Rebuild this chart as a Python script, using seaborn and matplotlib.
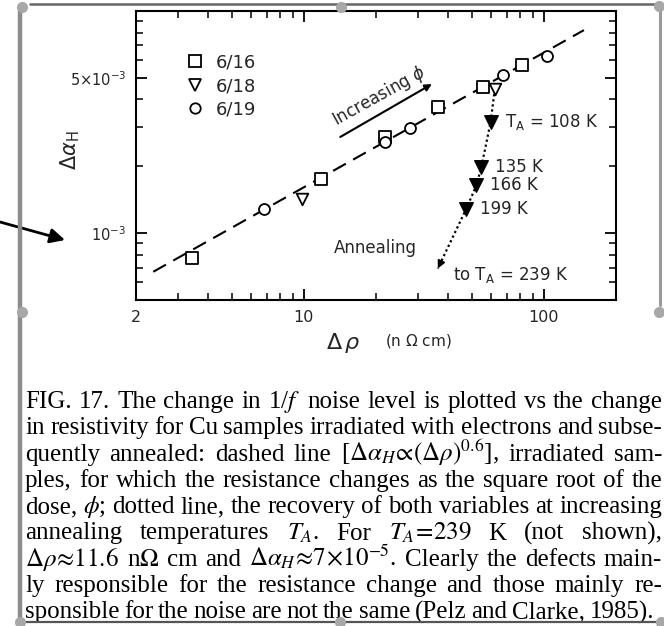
import numpy as np
import pandas as pd
import matplotlib
matplotlib.use("Agg")
import matplotlib.pyplot as plt
import seaborn as sns
from matplotlib.lines import Line2D
from matplotlib.ticker import NullFormatter

# ---------------- data ----------------
sq_x = [3.42, 11.8, 21.7, 36.2, 55.9, 80.9]            # sample 6/16
sq_y = [7.7e-4, 1.76e-3, 2.72e-3, 3.68e-3, 4.53e-3, 5.71e-3]
tri_x = [9.87, 62.5]                                     # sample 6/18
tri_y = [1.43e-3, 4.45e-3]
circ_x = [6.82, 21.7, 27.6, 67.8, 102.8]                 # sample 6/19
circ_y = [1.29e-3, 2.58e-3, 2.96e-3, 5.15e-3, 6.27e-3]
legend_labels = ["6/16", "6/18", "6/19"]

anneal_labels = [r"T$_\mathregular{A}$ = 108 K", "135 K", "166 K", "199 K"]
anneal_x = [60.1, 55.0, 52.4, 47.6]
anneal_y = [3.17e-3, 1.99e-3, 1.64e-3, 1.29e-3]
anneal_end_x = [36.2]
anneal_end_y = [6.93e-4]
anneal_end_label = r"to T$_\mathregular{A}$ = 239 K"

fit_x = [2.36, 147.0]     # dashed line  (Δα_H ∝ Δρ^0.6)
fit_y = [6.7e-4, 8.2e-3]

x_ticks = [2, 10, 100]
x_ticklabels = ["2", "10", "100"]
y_ticks = [1e-3, 5e-3]
y_ticklabels = [r"$10^{-3}$", r"$5{\times}10^{-3}$"]

caption_lines = [
    r"FIG. 17.  The change in 1/$f$ noise level is plotted vs the change",
    r"in resistivity for Cu samples irradiated with electrons and subse-",
    r"quently annealed: dashed line [$\Delta\alpha_H\!\propto\!(\Delta\rho)^{0.6}$], irradiated sam-",
    r"ples, for which the resistance changes as the square root of the",
    r"dose, $\phi$; dotted line, the recovery of both variables at increasing",
    r"annealing temperatures $T_A$. For $T_A\!=\!239$ K (not shown),",
    r"$\Delta\rho\!\approx\!11.6$ n$\Omega$ cm and $\Delta\alpha_H\!\approx\!7\!\times\!10^{-5}$. Clearly the defects main-",
    r"ly responsible for the resistance change and those mainly re-",
    r"sponsible for the noise are not the same (Pelz and Clarke, 1985).",
]

# ---------------- figure ----------------
sns.set_theme(style="ticks")
plt.rcParams["font.family"] = ["DejaVu Sans"]
plt.rcParams["mathtext.fontset"] = "dejavusans"

W, H = 664, 626
fig = plt.figure(figsize=(W / 100, H / 100), dpi=100)
fig.patch.set_facecolor("white")

def fx(px):
    return px / W

def fy(py):
    return 1 - py / H

ax = fig.add_axes([fx(136), fy(300), fx(616) - fx(136), fy(11) - fy(300)])
ax.set_facecolor("white")
ax.set_xscale("log")
ax.set_yscale("log")
ax.set_xlim(2, 200)
ax.set_ylim(5e-4, 1e-2)

# dashed power-law line
sns.lineplot(x=fit_x, y=fit_y, ax=ax, color="black", lw=1.5, sort=False, zorder=2)
ax.lines[-1].set_dashes([7, 4])

# dotted annealing path
path_x = [tri_x[-1]] + anneal_x + anneal_end_x
path_y = [tri_y[-1]] + anneal_y + anneal_end_y
sns.lineplot(x=path_x, y=path_y, ax=ax, color="black", lw=1.6, sort=False, zorder=2)
ax.lines[-1].set_linestyle((0, (1, 1.3)))
# arrow head at the end of the annealing path
lx = np.log10([anneal_end_x[0], anneal_x[-1]])
ly = np.log10([anneal_end_y[0], anneal_y[-1]])
tail = (10 ** (lx[0] + 0.12 * (lx[1] - lx[0])), 10 ** (ly[0] + 0.12 * (ly[1] - ly[0])))
ax.annotate("", xy=(anneal_end_x[0], anneal_end_y[0]), xytext=tail,
            arrowprops=dict(arrowstyle="-|>", color="black", lw=1.3, mutation_scale=11,
                            shrinkA=0, shrinkB=0))

# data markers
common = dict(ax=ax, color="black", edgecolor="black", facecolor="white", linewidth=1.3, zorder=3, legend=False)
sns.scatterplot(x=sq_x, y=sq_y, marker="s", s=70, **common)
sns.scatterplot(x=tri_x, y=tri_y, marker="v", s=70, **common)
sns.scatterplot(x=circ_x, y=circ_y, marker="o", s=62, **common)
sns.scatterplot(x=anneal_x, y=anneal_y, marker="v", s=95, ax=ax, color="black",
                edgecolor="black", linewidth=1, zorder=3, legend=False)

# annealing labels
for lab, x, y in zip(anneal_labels, anneal_x, anneal_y):
    ax.annotate(lab, xy=(x, y), xytext=(10, 0), textcoords="offset points",
                ha="left", va="center", fontsize=12)
ax.annotate(anneal_end_label, xy=(anneal_end_x[0], anneal_end_y[0]), xytext=(11, -5),
            textcoords="offset points", ha="left", va="center", fontsize=12)

ax.text(19.8, 8.6e-4, "Annealing", ha="center", va="center", fontsize=12)
ax.text(20.6, 4.15e-3, r"Increasing $\phi$", ha="center", va="center", fontsize=12,
        rotation=29, rotation_mode="anchor")
ax.annotate("", xy=(34.2, 4.69e-3), xytext=(14.2, 2.71e-3),
            arrowprops=dict(arrowstyle="-|>", color="black", lw=1.5, mutation_scale=10,
                            shrinkA=0, shrinkB=0))

# legend
handles = [
    Line2D([], [], marker="s", ls="none", mfc="white", mec="black", mew=1.3, ms=8),
    Line2D([], [], marker="v", ls="none", mfc="white", mec="black", mew=1.3, ms=8),
    Line2D([], [], marker="o", ls="none", mfc="white", mec="black", mew=1.3, ms=7.5),
]
ax.legend(handles, legend_labels, loc="upper left", bbox_to_anchor=(0.104, 0.852),
          frameon=False, fontsize=13, handlelength=1.0, handletextpad=0.65,
          labelspacing=0.3, borderpad=0, borderaxespad=0)

# axes styling
for sp in ax.spines.values():
    sp.set_visible(True)
    sp.set_linewidth(1.5)
    sp.set_color("black")
ax.set_xticks(x_ticks)
ax.set_xticklabels(x_ticklabels)
ax.set_xticks([3, 4, 5, 6, 7, 8, 9, 20, 30, 40, 50, 60, 70, 80, 90], minor=True)
ax.xaxis.set_minor_formatter(NullFormatter())
ax.set_yticks(y_ticks)
ax.set_yticklabels(y_ticklabels)
ax.set_yticks([6e-4, 7e-4, 8e-4, 9e-4, 2e-3, 3e-3, 4e-3, 6e-3, 7e-3, 8e-3, 9e-3], minor=True)
ax.yaxis.set_minor_formatter(NullFormatter())
ax.tick_params(which="both", direction="in", top=True, right=True, color="black")
ax.tick_params(which="major", length=8, width=1.3, pad=7)
ax.tick_params(axis="x", which="major", labelsize=11.5)
ax.tick_params(axis="y", which="major", labelsize=10.5)
ax.tick_params(which="minor", length=5, width=1.1)
ax.set_xlabel("")
ax.set_ylabel(r"$\Delta\alpha_\mathregular{H}$", fontsize=15)
ax.yaxis.set_label_coords((82 - 136) / 480, (300 - 150) / 289)

fig.text(fx(343), fy(343), r"$\Delta\,\rho$", fontsize=16, ha="center", va="center")
fig.text(fx(418), fy(341), r"(n $\Omega$ cm)", fontsize=11, ha="center", va="center")

# ---------------- caption (justified) ----------------
fig.canvas.draw()
renderer = fig.canvas.get_renderer()
for i, line in enumerate(caption_lines):
    words = line.split()
    ybase = fy(408 + 26.3 * i)
    right = 662 if i < len(caption_lines) - 1 else 654
    fs = 18.0
    while True:
        objs = [fig.text(0, ybase, w, fontsize=fs, family="Liberation Serif",
                         math_fontfamily="stix", va="baseline", ha="left", color="black")
                for w in words]
        widths = [o.get_window_extent(renderer).width for o in objs]
        gap = (right - 25 - sum(widths)) / max(len(words) - 1, 1)
        if gap >= 4.5 or fs <= 14:
            break
        for o in objs:
            o.remove()
        fs -= 0.25
    xpos = 25
    for o, w in zip(objs, widths):
        o.set_x(fx(xpos))
        xpos += w + gap

# ---------------- screenshot frame / selection handles ----------------
grey = "#8c8c8c"
fig.add_artist(Line2D([fx(20), fx(20)], [fy(10), fy(626)], transform=fig.transFigure,
                      color=grey, lw=3.2, zorder=5))
fig.add_artist(Line2D([fx(30), fx(655)], [fy(4), fy(4)], transform=fig.transFigure,
                      color="#666666", lw=1.8, zorder=5))
fig.add_artist(Line2D([fx(660), fx(660)], [fy(10), fy(305)], transform=fig.transFigure,
                      color="#9a9a9a", lw=2.2, zorder=5))
fig.add_artist(Line2D([fx(22), fx(664)], [fy(622), fy(622)], transform=fig.transFigure,
                      color="#555555", lw=1.6, zorder=5))
for hx, hy in [(22, 7), (341, 7), (659, 6), (22, 312), (659, 312), (20, 622), (340, 622), (661, 622)]:
    fig.add_artist(Line2D([fx(hx)], [fy(hy)], transform=fig.transFigure, marker="o",
                          ms=7, color="#a8a8a8", mec="#a8a8a8", ls="none", zorder=6))

ax.annotate("", xy=(65, H - 240), xycoords="figure pixels", xytext=(0, H - 222),
            textcoords="figure pixels", annotation_clip=False,
            arrowprops=dict(arrowstyle="-|>", color="black", lw=2, mutation_scale=22,
                            shrinkA=0, shrinkB=0))

fig.savefig("out.png", dpi=100)
